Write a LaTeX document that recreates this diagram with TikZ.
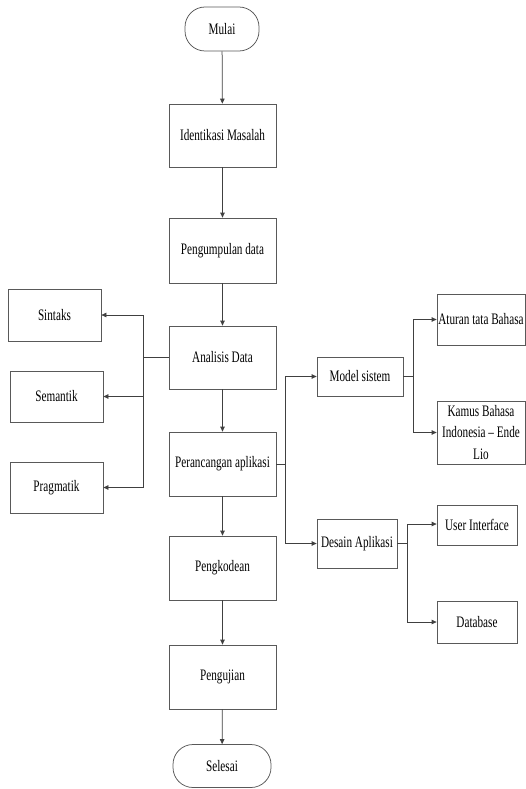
\documentclass[tikz,border=0pt]{standalone}
\usepackage{fontspec}
\setmainfont{Liberation Serif}[FakeStretch=0.70]
\usetikzlibrary{arrows.meta}
\tikzset{
  box/.style={draw=black!65, line width=0.75pt, minimum width=#1, inner sep=1pt, align=center, font=\fontsize{16}{21.5}\selectfont},
  term/.style={draw=black!65, line width=0.75pt, rounded corners=20pt, inner sep=1pt, font=\fontsize{16}{21.5}\selectfont},
  conn/.style={draw=black!75, line width=0.75pt},
  arr/.style={conn, -{Triangle[length=5pt,width=4.5pt]}}
}
\begin{document}
\begin{tikzpicture}[x=1pt,y=-1pt]
\useasboundingbox[fill=white] (0,0) rectangle (526,789);
% main column
\node[term, minimum width=74pt, minimum height=44pt] (mulai) at (222,29) {Mulai};
\node[box=107pt, minimum height=63pt] (idm) at (222.5,135.5) {Identikasi Masalah};
\node[box=107pt, minimum height=65pt] (pd) at (222.5,250.5) {Pengumpulan data};
\node[box=107pt, minimum height=63pt] (ana) at (222.5,357.5) {Analisis Data};
\node[box=107pt, minimum height=64pt] (per) at (222.5,464) {Perancangan aplikasi};
\node[box=107pt, minimum height=64pt] (kod) at (222.5,568) {Pengkodean};
\node[box=107pt, minimum height=64pt] (uji) at (222.5,677) {Pengujian};
\node[term, minimum width=98pt, minimum height=43pt] (sel) at (222,766) {Selesai};
% left
\node[box=93pt, minimum height=52pt] (sin) at (54.5,315) {Sintaks};
\node[box=93pt, minimum height=51pt] (sem) at (56.5,396.5) {Semantik};
\node[box=93pt, minimum height=51pt] (pra) at (56.5,487.5) {Pragmatik};
% right
\node[box=86pt, minimum height=39pt] (mod) at (360,376.5) {Model sistem};
\node[box=80pt, minimum height=49pt] (des) at (357,543.5) {Desain Aplikasi};
\node[box=88pt, minimum height=51pt] (atu) at (481,319.5) {Aturan tata Bahasa};
\node[box=88pt, minimum height=63pt] (kam) at (481,432.5) {Kamus Bahasa\\Indonesia -- Ende\\Lio};
\node[box=80pt, minimum height=40pt] (ui) at (477,525) {User Interface};
\node[box=80pt, minimum height=42pt] (db) at (477,622) {Database};
% main arrows
\draw[arr] (mulai) -- (idm);
\draw[arr] (idm) -- (pd);
\draw[arr] (pd) -- (ana);
\draw[arr] (ana) -- (per);
\draw[arr] (per) -- (kod);
\draw[arr] (kod) -- (uji);
\draw[arr] (uji) -- (sel);
% left branch
\coordinate (lj) at (143,357.5);
\draw[conn] (ana.west) -- (lj);
\draw[arr] (lj) |- (sin.east);
\draw[arr] (lj) |- (sem.east);
\draw[arr] (lj) |- (pra.east);
% right branch 1
\coordinate (rj) at (285,464);
\draw[conn] (per.east) -- (rj);
\draw[arr] (rj) |- (mod.west);
\draw[arr] (rj) |- (des.west);
% model branch
\coordinate (mj) at (413,376.5);
\draw[conn] (mod.east) -- (mj);
\draw[arr] (mj) |- (atu.west);
\draw[arr] (mj) |- (kam.west);
% desain branch
\coordinate (dj) at (407,543.5);
\draw[conn] (des.east) -- (dj);
\draw[arr] (dj) |- ([yshift=1pt]ui.west);
\draw[arr] (dj) |- (db.west);
\end{tikzpicture}
\end{document}
